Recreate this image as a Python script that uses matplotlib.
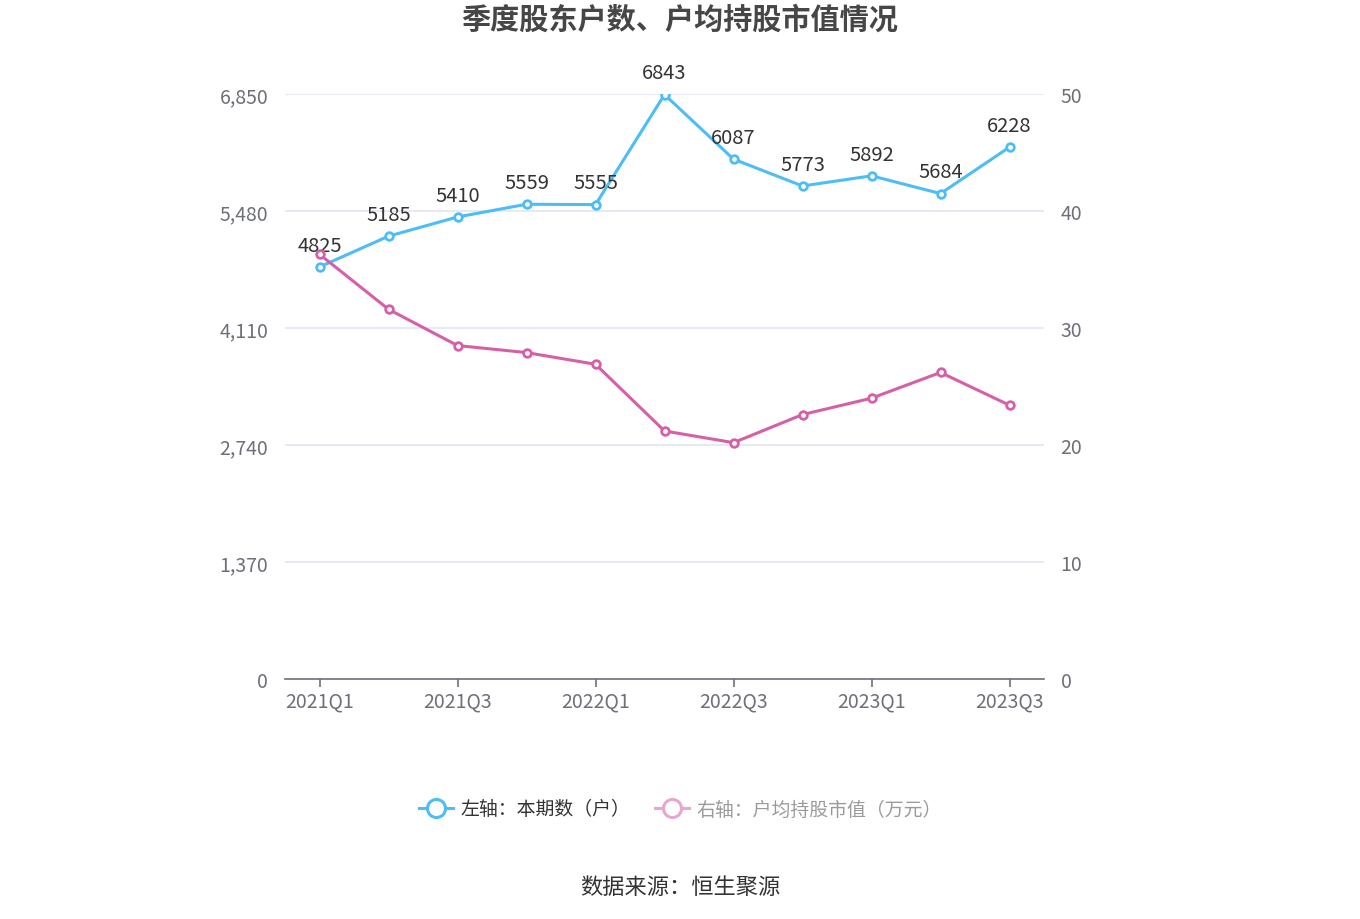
import matplotlib
matplotlib.use("Agg")
import matplotlib.pyplot as plt
from matplotlib.lines import Line2D

plt.rcParams['font.family'] = ['Noto Sans CJK SC', 'DejaVu Sans']

categories = ["2021Q1", "2021Q2", "2021Q3", "2021Q4", "2022Q1", "2022Q2",
              "2022Q3", "2022Q4", "2023Q1", "2023Q2", "2023Q3"]
holders = [4825, 5185, 5410, 5559, 5555, 6843, 6087, 5773, 5892, 5684, 6228]
avg_value = [36.3, 31.6, 28.5, 27.9, 26.9, 21.2, 20.2, 22.6, 24.0, 26.2, 23.4]
left_ticks = [0, 1370, 2740, 4110, 5480, 6850]
left_tick_labels = ["0", "1,370", "2,740", "4,110", "5,480", "6,850"]
right_ticks = [0, 10, 20, 30, 40, 50]

title = "季度股东户数、户均持股市值情况"
legend_left = "左轴：本期数（户）"
legend_right = "右轴：户均持股市值（万元）"
source = "数据来源：恒生聚源"

blue = "#4DBDF5"
pink = "#D660A8"

fig = plt.figure(figsize=(13.6, 9.2), dpi=100)
ax = fig.add_axes([285/1360, 1-680/920, (1044-285)/1360, (680-95)/920])
ax2 = ax.twinx()

x = list(range(len(categories)))

ax.plot(x, holders, color=blue, lw=2.2, marker='o', ms=5.5, mfc='white',
        mec=blue, mew=2, zorder=5)
for xi, v in zip(x, holders):
    ax.annotate(str(v), (xi, v), xytext=(0, 8), textcoords='offset points',
                ha='center', va='bottom', fontsize=14.5, color='#333333', zorder=6)

ax2.plot(x, avg_value, color=pink, lw=2.2, marker='o', ms=5.5, mfc='white',
         mec=pink, mew=2, zorder=5)

ax.set_xlim(-0.5, len(categories) - 0.5)
ax.set_ylim(0, 6850)
ax2.set_ylim(0, 50)

ax.set_yticks(left_ticks)
ax.set_yticklabels(left_tick_labels)
ax2.set_yticks(right_ticks)

ax.set_xticks(x[::2])
ax.set_xticklabels(categories[::2])

ax.grid(axis='y', color='#E0E6F1', lw=1.2)
ax.set_axisbelow(True)

for a in (ax, ax2):
    for s in ['top', 'left', 'right', 'bottom']:
        a.spines[s].set_visible(False)
ax.spines['bottom'].set_visible(True)
ax.spines['bottom'].set_color('#6E7079')
ax.spines['bottom'].set_linewidth(1.2)

ax.tick_params(axis='x', colors='#6E7079', length=6, width=1.2, labelsize=14,
               pad=2, labelcolor='#6E7079')
ax.tick_params(axis='y', length=0, labelsize=14, labelcolor='#6E7079', pad=12)
ax2.tick_params(axis='y', length=0, labelsize=14, labelcolor='#6E7079', pad=12)

fig.text(0.5, 1-20/920, title, ha='center', va='center', fontsize=21,
         fontweight='bold', color='#464646')

h1 = Line2D([], [], color=blue, lw=2.2, marker='o', ms=13, mfc='white',
            mec=blue, mew=2.2)
h2 = Line2D([], [], color='#EBA6D0', lw=2.2, marker='o', ms=13, mfc='white',
            mec='#EBA6D0', mew=2.2)
leg = fig.legend([h1, h2], [legend_left, legend_right], loc='center',
                 bbox_to_anchor=(0.5, 1-810/920), ncol=2, frameon=False,
                 fontsize=13.6, handlelength=1.8, handletextpad=0.4,
                 columnspacing=1.3)
texts = leg.get_texts()
texts[0].set_color('#333333')
texts[1].set_color('#9A9A9A')

fig.text(0.5, 1-888/920, source, ha='center', va='center', fontsize=16,
         color='#333333')

fig.savefig("out.png", dpi=100)
